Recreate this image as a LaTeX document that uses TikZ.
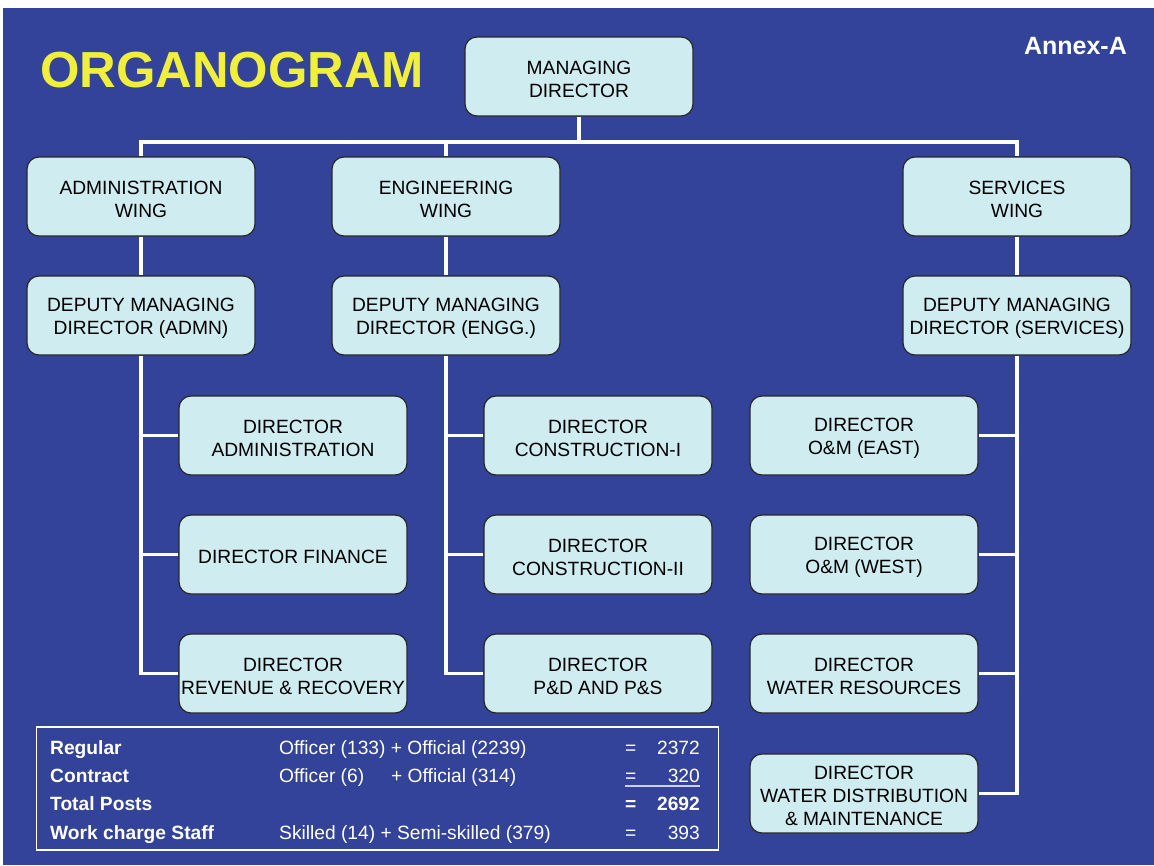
\documentclass[tikz,border=0pt]{standalone}
\usepackage{fontspec}
\setmainfont{Liberation Sans}
\definecolor{bg}{HTML}{334399}
\definecolor{boxfill}{HTML}{CFECF0}
\definecolor{titleyellow}{HTML}{F0F03C}
\begin{document}
\begin{tikzpicture}[x=1pt,y=-1pt,
  post/.style={draw=black!85,line width=1.2pt,fill=boxfill,rounded corners=12pt,
    minimum width=228pt,minimum height=79pt,inner sep=0pt},
  posttext/.style={align=center,inner sep=0pt,yshift=-2.5pt,
    text=black,font=\fontsize{19.2}{23}\selectfont},
  link/.style={draw=white,line width=3.5pt},
  cell/.style={anchor=base west,inner sep=0pt,text=white,font=\fontsize{19.2}{22}\selectfont},
  bcell/.style={cell,font=\fontsize{19.2}{22}\selectfont\bfseries},
  num/.style={cell,anchor=base east}]
% page and background
\fill[white] (0,0) rectangle (1154,865);
\fill[bg] (3,8) rectangle (1154,865);
\useasboundingbox (0,0) rectangle (1154,865);

% headings
\node[anchor=base west,inner sep=0pt,text=titleyellow,font=\fontsize{50.7}{56}\selectfont\bfseries] (title) at (40,87) {ORGANOGRAM};
\node[anchor=base east,inner sep=0pt,text=white,font=\fontsize{25}{28}\selectfont\bfseries] (annex) at (1127,54.5) {Annex-A};

% boxes: top level and wings
\node[post] (md) at (579,76.5) {};
\node[post] (aw) at (141,196.5) {};
\node[post] (ew) at (446,196.5) {};
\node[post] (sw) at (1017,196.5) {};
% deputy managing directors
\node[post] (ad) at (141,315.5) {};
\node[post] (ed) at (446,315.5) {};
\node[post] (sd) at (1017,315.5) {};
% directors
\node[post] (a1) at (293,435.5) {};
\node[post] (a2) at (293,554.5) {};
\node[post] (a3) at (293,673.5) {};
\node[post] (e1) at (598,435.5) {};
\node[post] (e2) at (598,554.5) {};
\node[post] (e3) at (598,673.5) {};
\node[post] (s1) at (864,435.5) {};
\node[post] (s2) at (864,554.5) {};
\node[post] (s3) at (864,673.5) {};
\node[post] (s4) at (864,793.5) {};

% box captions
\node[posttext] (md-t) at (md.center) {MANAGING\\DIRECTOR};
\node[posttext] (aw-t) at (aw.center) {ADMINISTRATION\\WING};
\node[posttext] (ew-t) at (ew.center) {ENGINEERING\\WING};
\node[posttext] (sw-t) at (sw.center) {SERVICES\\WING};
\node[posttext] (ad-t) at (ad.center) {DEPUTY MANAGING\\DIRECTOR (ADMN)};
\node[posttext] (ed-t) at (ed.center) {DEPUTY MANAGING\\DIRECTOR (ENGG.)};
\node[posttext] (sd-t) at (sd.center) {DEPUTY MANAGING\\DIRECTOR (SERVICES)};
\node[posttext] (a1-t) at (a1.center) {DIRECTOR\\ADMINISTRATION};
\node[posttext] (a2-t) at (a2.center) {DIRECTOR FINANCE};
\node[posttext] (a3-t) at (a3.center) {DIRECTOR\\REVENUE \& RECOVERY};
\node[posttext] (e1-t) at (e1.center) {DIRECTOR\\CONSTRUCTION-I};
\node[posttext] (e2-t) at (e2.center) {DIRECTOR\\CONSTRUCTION-II};
\node[posttext] (e3-t) at (e3.center) {DIRECTOR\\P\&D AND P\&S};
\node[posttext] (s1-t) at (s1.center) {DIRECTOR\\O\&M (EAST)};
\node[posttext] (s2-t) at (s2.center) {DIRECTOR\\O\&M (WEST)};
\node[posttext] (s3-t) at (s3.center) {DIRECTOR\\WATER RESOURCES};
\node[posttext] (s4-t) at (s4.center) {DIRECTOR\\WATER DISTRIBUTION\\\& MAINTENANCE};

% connectors
\coordinate (bus) at (0,142);
\draw[link] (md.south) -- (md.south |- bus);
\draw[link] (aw.north) -- (aw.north |- bus) -- (sw.north |- bus) -- (sw.north);
\draw[link] (ew.north) -- (ew.north |- bus);
\draw[link] (aw.south) -- (ad.north);
\draw[link] (ew.south) -- (ed.north);
\draw[link] (sw.south) -- (sd.north);

\draw[link] (ad.south) |- (a3.west);
\draw[link] (a1.west) -- (a1.west -| ad.south);
\draw[link] (a2.west) -- (a2.west -| ad.south);

\draw[link] (ed.south) |- (e3.west);
\draw[link] (e1.west) -- (e1.west -| ed.south);
\draw[link] (e2.west) -- (e2.west -| ed.south);

\draw[link] (sd.south) |- (s4.east);
\draw[link] (s1.east) -- (s1.east -| sd.south);
\draw[link] (s2.east) -- (s2.east -| sd.south);
\draw[link] (s3.east) -- (s3.east -| sd.south);

% staff summary
\node[draw=white,line width=1.2pt,inner sep=0pt,minimum width=682pt,minimum height=123pt] (summary) at (377.5,788.5) {};

\node[bcell] (r1a) at (50,754) {Regular};
\node[cell]  (r1b) at (279,754) {Officer (133) + Official (2239)};
\node[cell]  (r1c) at (625,754) {=};
\node[num]   (r1d) at (700,754) {2372};

\node[bcell] (r2a) at (50,782) {Contract};
\node[cell]  (r2b) at (279,782) {Officer (6)};
\node[cell]  (r2e) at (391,782) {+ Official (314)};
\node[cell]  (r2c) at (625,782) {=};
\node[num]   (r2d) at (700,782) {320};
\draw[white!75!bg,line width=1.3pt] ([yshift=-4pt]r2c.base west) -- ([yshift=-4pt]r2d.base east);

\node[bcell] (r3a) at (50,810.5) {Total Posts};
\node[bcell] (r3c) at (625,810.5) {=};
\node[num,font=\fontsize{19.2}{22}\selectfont\bfseries] (r3d) at (700,810.5) {2692};

\node[bcell] (r4a) at (50,839) {Work charge Staff};
\node[cell]  (r4b) at (279,839) {Skilled (14) + Semi-skilled (379)};
\node[cell]  (r4c) at (625,839) {=};
\node[num]   (r4d) at (700,839) {393};
\end{tikzpicture}
\end{document}
